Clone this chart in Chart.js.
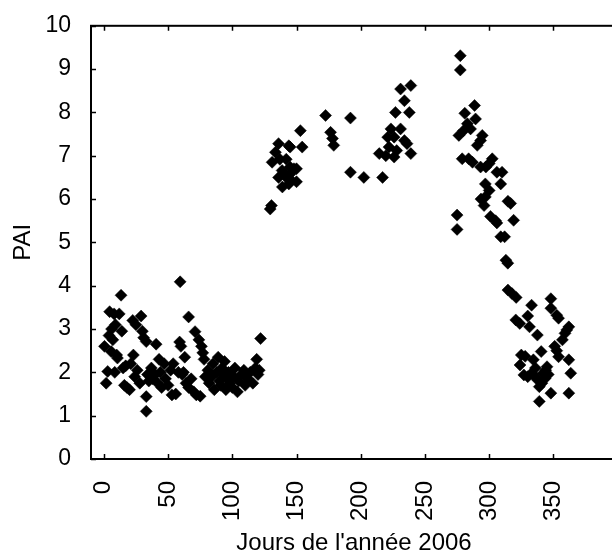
<!DOCTYPE html>
<html>
<head>
<meta charset="utf-8">
<script src="https://cdn.jsdelivr.net/npm/chart.js@4.4.1/dist/chart.umd.min.js"></script>
<style>
  html, body { margin: 0; padding: 0; background: #fff; width: 612px; height: 555px; overflow: hidden; }
  canvas { display: block; }
</style>
</head>
<body>
<canvas id="myChart" width="625" height="555"></canvas>
<script>
// jours de l'année / PAI
const days = [
  // janvier - avril
  0.5, 1.8, 3, 4.5, 4, 5.7, 6, 7, 8, 8.5, 9, 10, 10.6, 12, 13.4, 14, 15, 16, 17, 18,
  20, 21, 22.5, 23, 24, 25, 26, 28, 29, 30, 31, 33, 33, 33, 34, 35, 37, 38, 40, 40.7,
  42, 43, 44, 45, 47, 48, 50, 52, 53, 54, 56, 58, 59.4, 59, 60, 61, 62, 63, 64, 66,
  66, 68, 70, 71, 72, 74, 75, 76, 77, 78, 79, 81, 82, 84, 85, 86, 88, 89, 90, 91,
  92, 93, 94, 95, 96, 97, 98, 100, 101, 102, 104, 105, 107, 109, 110, 112, 114, 116, 118, 119,
  120, 121, 122,
  // mai - août
  129.5, 130.5, 131, 133.6, 136, 137, 138.8, 136, 139, 142, 142, 144, 144, 146, 145, 145, 148, 145, 150, 153,
  154.4, 172.6, 176.5, 178, 179, 192, 192, 202.4, 217, 214.4, 219.5, 221, 222, 223.5, 226, 226, 227, 228, 231, 231,
  234, 234, 236, 237.8, 239, 239, 150, 140,
  // octobre
  276.4, 277.5, 277.5, 275, 275, 279, 280, 281, 283, 284, 285.5, 287, 288.6, 289.4, 290.7, 293.3, 294.6, 293.3, 297.4, 300,
  302.4, 306, 310, 309, 297, 300, 297, 293.6, 296, 301, 305, 306, 309, 312, 313, 314.5, 314.6, 317.7, 321, 316.7,
  319, 314.6,
  // novembre - décembre
  320.7, 323.8, 333, 330, 331.4, 337.5, 340.5, 325, 328, 324, 327, 330, 334.4, 333, 336, 337.5, 339, 342, 343.5, 345,
  348, 339, 348, 348, 352.6, 354, 351, 352.6, 354, 357, 359, 360.4, 362, 362, 363.5, 362, 341, 346, 344, 336
];

const pai = [
  2.6, 1.75, 2.02, 3.4, 2.85, 2.48, 3.0, 2.75, 3.35, 2.0, 3.1, 2.4, 2.33, 3.35, 3.78, 2.95, 2.1, 1.7, 2.15, 1.65,
  1.6, 2.2, 3.2, 2.4, 1.9, 3.1, 2.05, 1.75, 3.3, 2.95, 2.8, 2.71, 1.44, 1.1, 1.95, 1.8, 2.1, 1.85, 1.95, 2.65,
  1.75, 2.3, 2.0, 1.65, 2.2, 1.85, 1.7, 2.05, 1.48, 2.2, 1.5, 2.0, 4.09, 2.7, 2.6, 1.95, 2.0, 2.35, 1.75, 3.28,
  1.65, 1.85, 1.55, 2.94, 1.48, 2.75, 1.45, 2.6, 2.45, 2.3, 1.9, 2.05, 1.75, 1.9, 2.2, 1.6, 2.0, 2.35, 1.8, 1.7,
  2.1, 1.95, 2.25, 1.6, 1.85, 2.0, 1.75, 1.65, 1.9, 2.1, 1.55, 1.8, 1.95, 2.05, 1.7, 1.85, 2.0, 1.75, 2.1, 2.3,
  1.95, 2.05, 2.78,
  5.77, 5.85, 6.85, 7.08, 7.28, 6.92, 6.66, 6.5, 6.28, 6.92, 6.5, 7.23, 6.35, 6.43, 7.2, 6.74, 6.7, 6.58, 6.4, 7.58,
  7.2, 7.93, 7.54, 7.4, 7.24, 7.87, 6.62, 6.5, 6.5, 7.05, 7.0, 7.43, 7.2, 7.62, 7.43, 6.97, 8.0, 7.12, 7.62, 8.54,
  8.27, 7.35, 7.28, 8.0, 8.62, 7.05, 6.7, 6.6,
  7.47, 9.31, 8.98, 5.63, 5.3, 6.93, 7.58, 7.98, 7.74, 6.93, 7.62, 6.85, 8.16, 7.85, 7.24, 7.35, 7.47, 6.74, 6.74, 6.82,
  6.93, 6.62, 6.62, 6.35, 6.35, 6.2, 6.05, 6.0, 5.85, 5.6, 5.5, 5.45, 5.13, 5.13, 4.59, 4.52, 3.9, 3.82, 3.73, 5.9,
  5.51, 5.95,
  3.21, 3.13, 3.55, 3.3, 3.05, 2.86, 2.48, 2.4, 2.37, 2.17, 1.94, 1.9, 2.29, 1.98, 1.9, 1.83, 1.67, 1.98, 1.86, 2.13,
  1.52, 1.33, 3.7, 3.48, 3.32, 3.25, 2.6, 2.5, 2.36, 2.75, 2.9, 2.98, 3.05, 2.29, 1.98, 1.52, 1.75, 1.95, 2.05, 2.1
];

const xTicks = [0, 50, 100, 150, 200, 250, 300, 350];
const yTicks = [0, 1, 2, 3, 4, 5, 6, 7, 8, 9, 10];

const FONT = "'Liberation Sans', Arial, sans-serif";
const ctx = document.getElementById("myChart").getContext("2d");

// cadre + graduations vers l'intérieur sur les 4 côtés
const frame = {
  id: 'frame',
  afterDraw(chart) {
    const {ctx, chartArea: a, scales: {x, y}} = chart;
    ctx.save();
    ctx.strokeStyle = '#000';
    ctx.lineWidth = 2;
    ctx.strokeRect(a.left, a.top, a.right - a.left, a.bottom - a.top);
    ctx.lineWidth = 1.5;
    ctx.beginPath();
    xTicks.forEach(v => {
      const px = Math.round(x.getPixelForValue(v)) + 0.5;
      ctx.moveTo(px, a.bottom); ctx.lineTo(px, a.bottom - 5);
      ctx.moveTo(px, a.top); ctx.lineTo(px, a.top + 5);
    });
    yTicks.forEach(v => {
      const py = Math.round(y.getPixelForValue(v)) + 0.5;
      ctx.moveTo(a.left, py); ctx.lineTo(a.left + 5, py);
      ctx.moveTo(a.right, py); ctx.lineTo(a.right - 5, py);
    });
    ctx.stroke();
    ctx.restore();
  }
};

new Chart(ctx, {
  type: 'scatter',
  data: {
    datasets: [{
      data: days.map((d, i) => ({ x: d, y: pai[i] })),
      pointStyle: 'rectRot',
      pointRadius: 6,
      backgroundColor: '#000',
      borderColor: '#000',
      borderWidth: 0.5,
    }]
  },
  options: {
    responsive: false,
    animation: false,
    events: [],
    layout: { padding: { top: 25, right: 8, left: 0, bottom: 0 } },
    plugins: { legend: { display: false }, tooltip: { enabled: false } },
    scales: {
      x: {
        type: 'linear',
        min: -10,
        max: 399.5,
        afterBuildTicks: s => { s.ticks = xTicks.map(v => ({ value: v })); },
        afterFit: s => { s.height = 96; },
        grid: { display: false },
        border: { display: false },
        ticks: {
          color: '#000',
          font: { family: FONT, size: 24 },
          minRotation: 90,
          maxRotation: 90,
          padding: 14,
          autoSkip: false,
        },
        title: {
          display: true,
          text: "Jours de l'année 2006",
          color: '#000',
          font: { family: FONT, size: 24, lineHeight: 1 },
          padding: { top: 0, bottom: 0 },
        }
      },
      y: {
        type: 'linear',
        min: 0,
        max: 10,
        afterBuildTicks: s => { s.ticks = yTicks.map(v => ({ value: v })); },
        afterFit: s => { s.width = 91; },
        grid: { display: false },
        border: { display: false },
        ticks: {
          color: '#000',
          font: { family: FONT, size: 23 },
          padding: 12,
        },
        title: {
          display: true,
          text: 'PAI',
          color: '#000',
          font: { family: FONT, size: 24, lineHeight: 1 },
          padding: { top: 11, bottom: 0 },
        }
      }
    }
  },
  plugins: [frame]
});
</script>
</body>
</html>
